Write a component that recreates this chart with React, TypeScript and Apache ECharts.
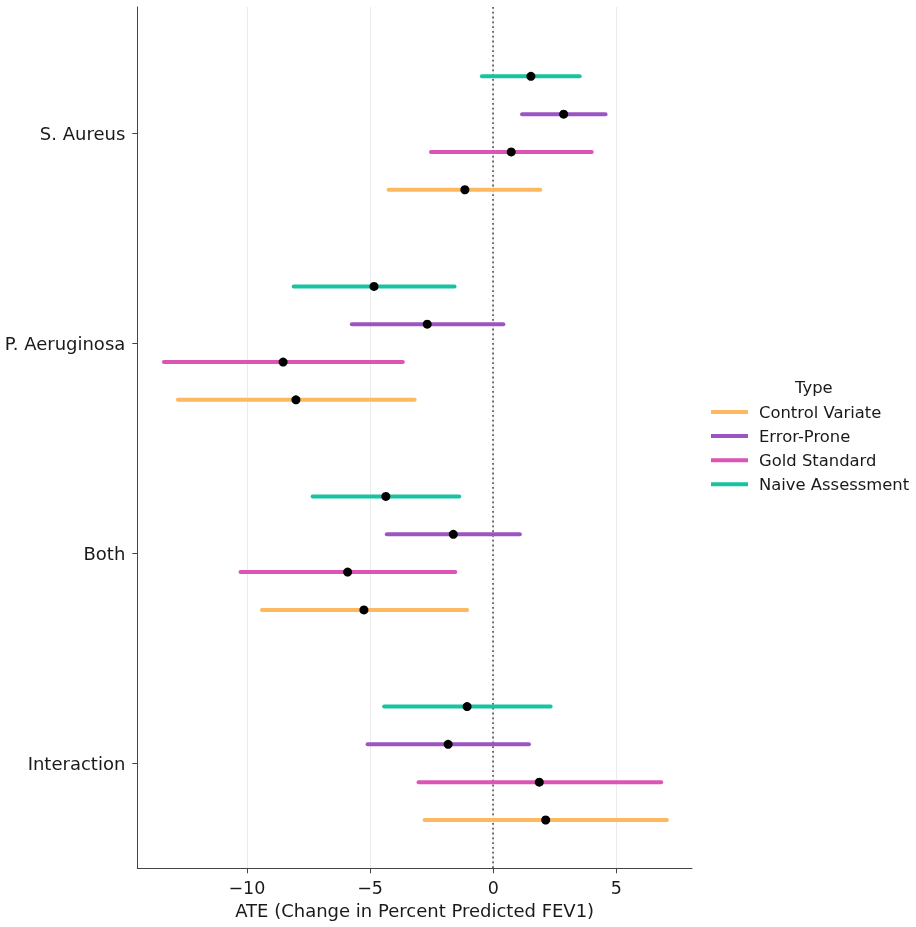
import React, { useEffect, useRef } from "react";
import * as echarts from "echarts";

// Categories (top to bottom)
const categories = ["S. Aureus", "P. Aeruginosa", "Both", "Interaction"];
const types = ["Control Variate", "Error-Prone", "Gold Standard", "Naive Assessment"];

// Values per type, in category order
const controlLow = [-4.25, -12.8, -9.39, -2.79];
const controlEst = [-1.15, -8.01, -5.25, 2.13];
const controlHigh = [1.91, -3.19, -1.06, 7.05];

const errorLow = [1.17, -5.74, -4.32, -5.1];
const errorEst = [2.86, -2.68, -1.62, -1.83];
const errorHigh = [4.56, 0.41, 1.08, 1.45];

const goldLow = [-2.53, -13.37, -10.26, -3.03];
const goldEst = [0.73, -8.53, -5.91, 1.87];
const goldHigh = [4.0, -3.67, -1.54, 6.82];

const naiveLow = [-0.46, -8.1, -7.33, -4.43];
const naiveEst = [1.53, -4.84, -4.36, -1.06];
const naiveHigh = [3.51, -1.57, -1.38, 2.33];

const xTicks = [-10, -5, 0, 5];

const FONT = "DejaVu Sans";
const colors: Record<string, string> = {
  "Control Variate": "#fdb860",
  "Error-Prone": "#9b55c2",
  "Gold Standard": "#dc55b5",
  "Naive Assessment": "#17c3a0",
};
const dodge: Record<string, number> = {
  "Control Variate": 0.27,
  "Error-Prone": -0.09,
  "Gold Standard": 0.09,
  "Naive Assessment": -0.27,
};
const seriesValues: Record<string, number[][]> = {
  "Control Variate": [controlLow, controlHigh, controlEst],
  "Error-Prone": [errorLow, errorHigh, errorEst],
  "Gold Standard": [goldLow, goldHigh, goldEst],
  "Naive Assessment": [naiveLow, naiveHigh, naiveEst],
};

export default function App() {
  const ref = useRef<HTMLDivElement>(null);
  useEffect(() => {
    if (!ref.current) return;
    const chart = echarts.init(ref.current, undefined, { renderer: "svg" });

    const lineSeries: any[] = types.map((t) => {
      const [lo, hi, est] = seriesValues[t];
      const data = categories.map((_, i) => [lo[i], hi[i], est[i], i + dodge[t]]);
      return {
        type: "custom",
        name: t,
        z: 3,
        itemStyle: { color: colors[t] },
        encode: { x: [0, 1], y: 3 },
        data,
        renderItem: (params: any, api: any) => {
          const y = api.value(3);
          const p1 = api.coord([api.value(0), y]);
          const p2 = api.coord([api.value(1), y]);
          return {
            type: "line",
            shape: { x1: p1[0], y1: p1[1], x2: p2[0], y2: p2[1] },
            style: { stroke: colors[t], lineWidth: 4, lineCap: "round" },
          };
        },
      };
    });

    const points: number[][] = [];
    types.forEach((t) => {
      const est = seriesValues[t][2];
      categories.forEach((_, i) => points.push([est[i], i + dodge[t]]));
    });

    const option: any = {
      animation: false,
      textStyle: { fontFamily: FONT },
      grid: { left: 137.3, top: 7, right: 224, bottom: 58.7, containLabel: false },
      xAxis: {
        type: "value",
        min: -14.45,
        max: 8.07,
        name: "ATE (Change in Percent Predicted FEV1)",
        nameLocation: "middle",
        nameGap: 33,
        nameTextStyle: { fontSize: 18, color: "#1a1a1a", fontFamily: FONT },
        axisLine: { show: true, onZero: false, lineStyle: { color: "#444", width: 1 } },
        axisTick: { show: true, length: 5, customValues: xTicks, lineStyle: { color: "#444" } },
        axisLabel: {
          customValues: xTicks,
          margin: 10.5,
          fontSize: 17.5,
          color: "#1a1a1a",
          fontFamily: FONT,
          formatter: (v: number) => (v < 0 ? "\u2212" + Math.abs(v) : String(v)),
        },
        splitLine: { show: true, lineStyle: { color: "#ebebeb", width: 1 } },
      },
      yAxis: {
        type: "value",
        inverse: true,
        min: -0.6,
        max: 3.5,
        axisLine: { show: true, onZero: false, lineStyle: { color: "#444", width: 1 } },
        axisTick: { show: true, length: 5, customValues: [0, 1, 2, 3], lineStyle: { color: "#444" } },
        axisLabel: {
          customValues: [0, 1, 2, 3],
          margin: 12,
          fontSize: 18,
          color: "#1a1a1a",
          fontFamily: FONT,
          formatter: (v: number) => categories[Math.round(v)] ?? "",
        },
        splitLine: { show: false },
      },
      legend: {
        orient: "vertical",
        left: 711,
        top: 402,
        padding: 0,
        itemWidth: 37,
        itemHeight: 4,
        itemGap: 4.1,
        icon: "rect",
        data: types.map((t) => ({ name: t, itemStyle: { color: colors[t] } })),
        textStyle: { fontSize: 16.4, lineHeight: 20, color: "#1a1a1a", fontFamily: FONT, padding: [0, 0, 0, 6] },
        selectedMode: false,
      },
      graphic: [
        {
          type: "text",
          left: 812 - 17,
          top: 389 - 10,
          style: { text: "Type", fontSize: 16.4, fontFamily: FONT, fill: "#1a1a1a" },
        },
      ],
      series: [
        {
          type: "line",
          name: "zero",
          data: [],
          markLine: {
            silent: true,
            symbol: "none",
            z: 1,
            label: { show: false },
            lineStyle: { color: "#444", width: 1.5, type: [1.8, 3], opacity: 1 },
            data: [{ xAxis: 0 }],
          },
        },
        ...lineSeries,
        {
          type: "scatter",
          name: "Estimate",
          z: 10,
          symbolSize: 9,
          itemStyle: { color: "#000", opacity: 1 },
          data: points,
        },
      ],
    };
    chart.setOption(option);
    return () => chart.dispose();
  }, []);
  return (
    <div
      ref={ref}
      style={{ position: "fixed", left: 0, top: 0, width: 916, height: 927 }}
    />
  );
}
